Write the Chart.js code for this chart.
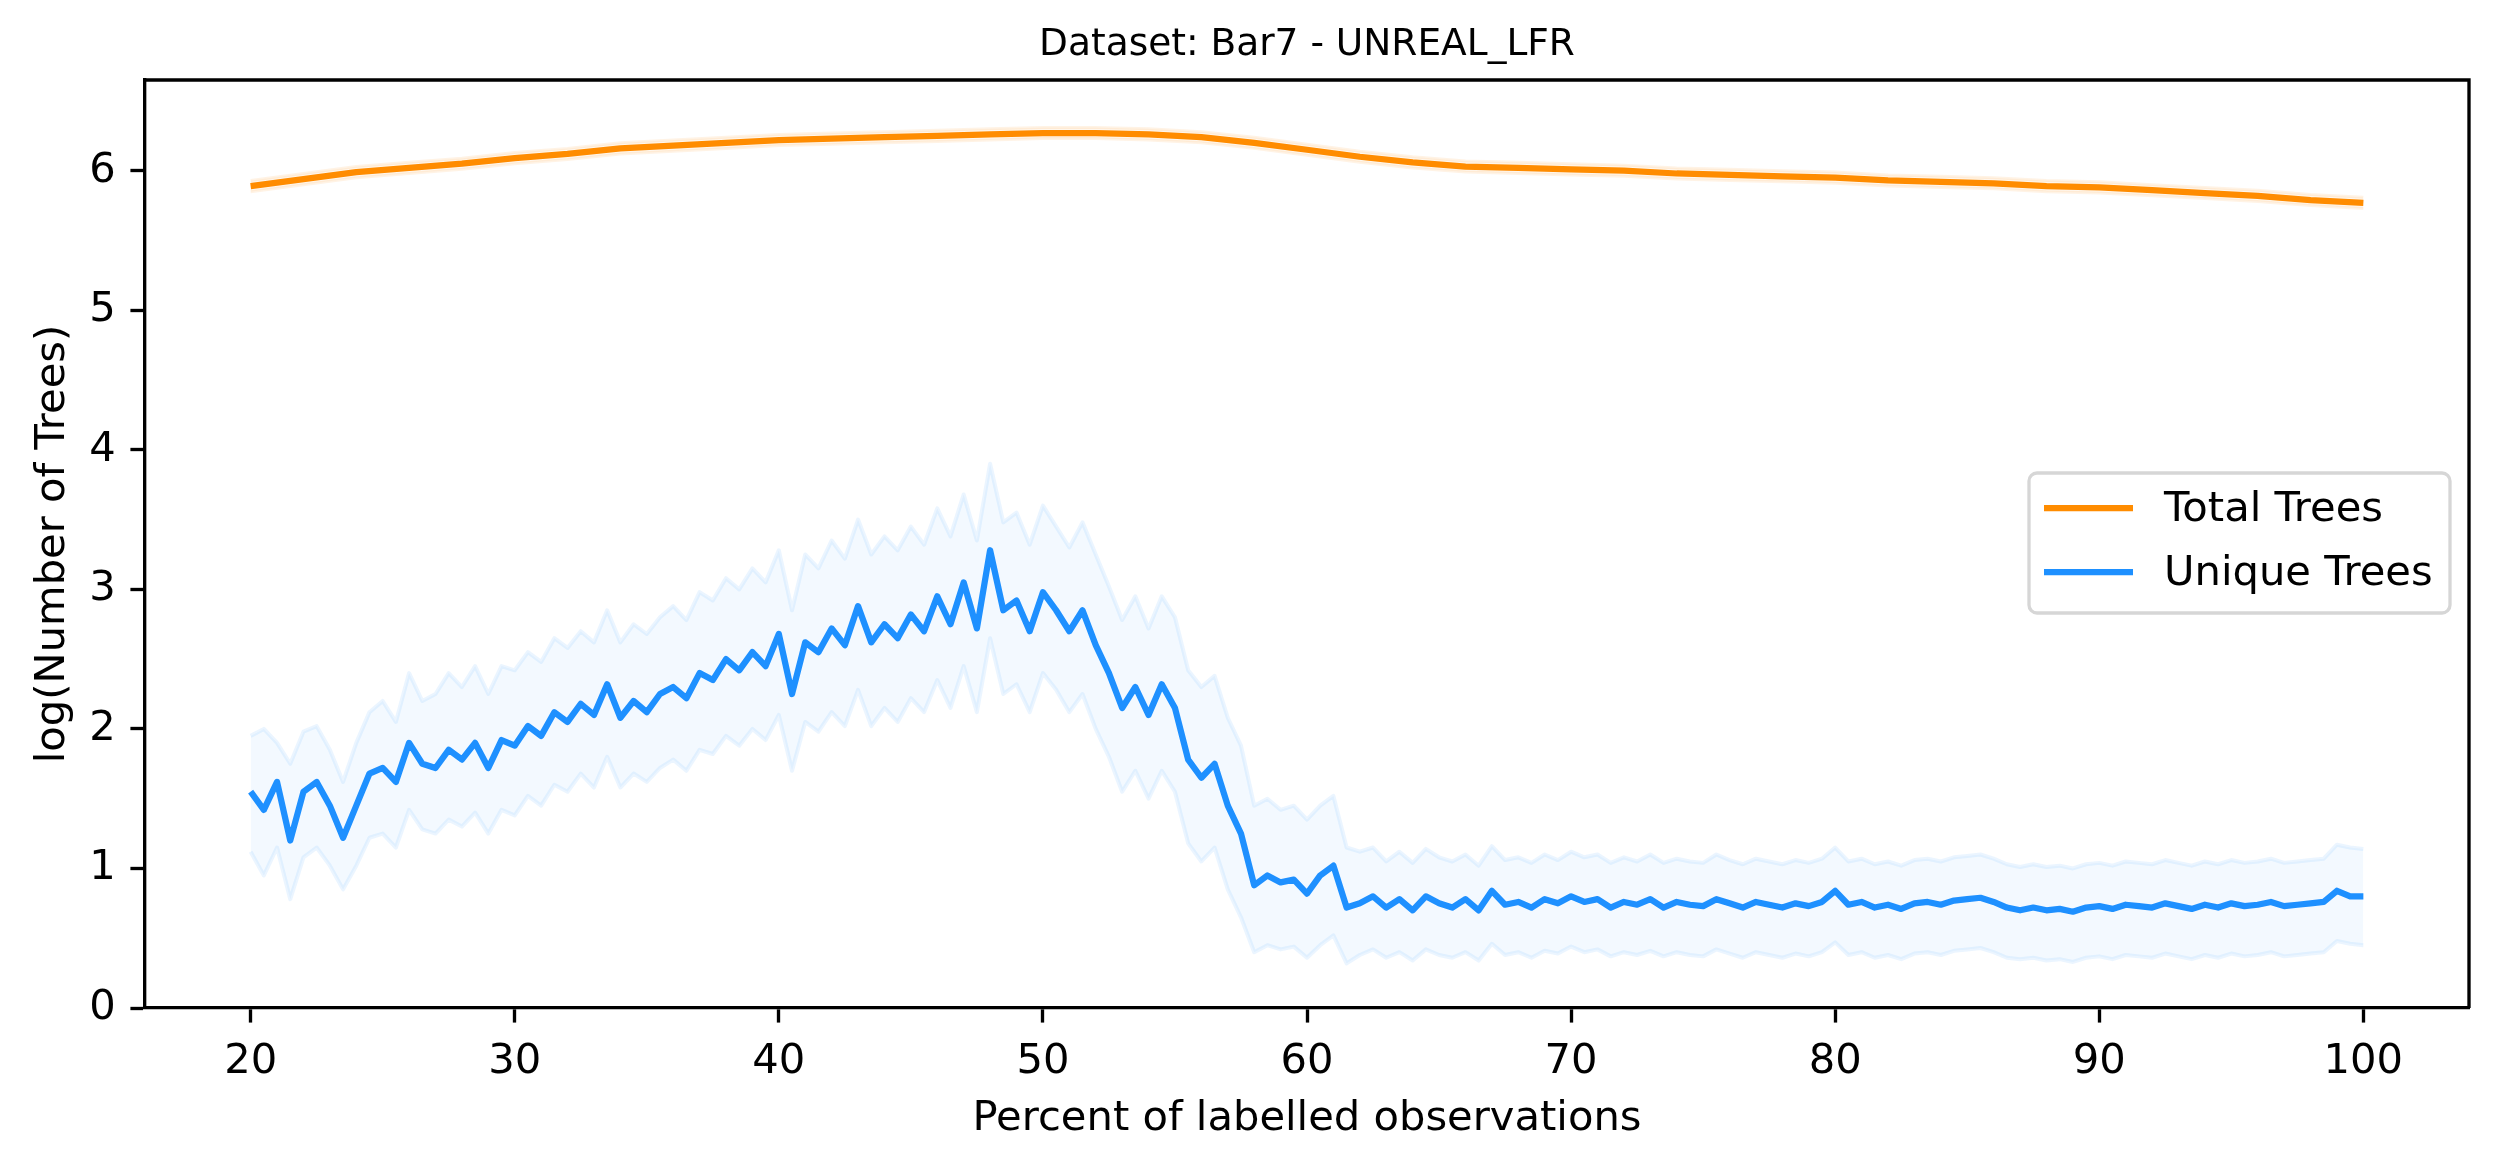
<!DOCTYPE html>
<html>
<head>
<meta charset="utf-8">
<script src="https://cdn.jsdelivr.net/npm/chart.js@4.4.1/dist/chart.umd.min.js"></script>
<style>
  html, body { margin: 0; padding: 0; background: #fff; }
  canvas { display: block; }
</style>
</head>
<body>
<canvas id="chart" width="2499" height="1165"></canvas>
<script>
// axis ticks
const xTicks = [20, 30, 40, 50, 60, 70, 80, 90, 100];
const yTicks = [0, 1, 2, 3, 4, 5, 6];

// Total Trees (read every 2 percent)
const totalX = [20, 22, 24, 26, 28, 30, 32, 34, 36, 38, 40, 42, 44, 46, 48, 50, 52, 54, 56, 58, 60,
  62, 64, 66, 68, 70, 72, 74, 76, 78, 80, 82, 84, 86, 88, 90, 92, 94, 96, 98, 100];
const totalMean = [5.89, 5.94, 5.99, 6.02, 6.05, 6.09, 6.12, 6.16, 6.18, 6.20, 6.22, 6.23, 6.24, 6.25, 6.26, 6.27, 6.27, 6.26, 6.24, 6.20, 6.15,
  6.10, 6.06, 6.03, 6.02, 6.01, 6.00, 5.98, 5.97, 5.96, 5.95, 5.93, 5.92, 5.91, 5.89, 5.88, 5.86, 5.84, 5.82, 5.79, 5.77];
const totalUpper = [5.93, 5.98, 6.03, 6.06, 6.09, 6.13, 6.16, 6.20, 6.22, 6.24, 6.26, 6.27, 6.28, 6.29, 6.30, 6.31, 6.31, 6.30, 6.28, 6.24, 6.19,
  6.14, 6.10, 6.07, 6.06, 6.05, 6.04, 6.02, 6.01, 6.00, 5.99, 5.97, 5.96, 5.95, 5.93, 5.92, 5.90, 5.88, 5.86, 5.83, 5.81];
const totalLower = [5.85, 5.90, 5.95, 5.98, 6.01, 6.05, 6.08, 6.12, 6.14, 6.16, 6.18, 6.19, 6.20, 6.21, 6.22, 6.23, 6.23, 6.22, 6.20, 6.16, 6.11,
  6.06, 6.02, 5.99, 5.98, 5.97, 5.96, 5.94, 5.93, 5.92, 5.91, 5.89, 5.88, 5.87, 5.85, 5.84, 5.82, 5.80, 5.78, 5.75, 5.73];

// Unique Trees (read every 0.5 percent)
const uniqueX = [
  20, 20.5, 21, 21.5, 22, 22.5, 23, 23.5, 24, 24.5, 25, 25.5, 26, 26.5, 27, 27.5, 28, 28.5, 29, 29.5,
  30, 30.5, 31, 31.5, 32, 32.5, 33, 33.5, 34, 34.5, 35, 35.5, 36, 36.5, 37, 37.5, 38, 38.5, 39, 39.5,
  40, 40.5, 41, 41.5, 42, 42.5, 43, 43.5, 44, 44.5, 45, 45.5, 46, 46.5, 47, 47.5, 48, 48.5, 49, 49.5,
  50, 50.5, 51, 51.5, 52, 52.5, 53, 53.5, 54, 54.5, 55, 55.5, 56, 56.5, 57, 57.5, 58, 58.5, 59, 59.5,
  60, 60.5, 61, 61.5, 62, 62.5, 63, 63.5, 64, 64.5, 65, 65.5, 66, 66.5, 67, 67.5, 68, 68.5, 69, 69.5,
  70, 70.5, 71, 71.5, 72, 72.5, 73, 73.5, 74, 74.5, 75, 75.5, 76, 76.5, 77, 77.5, 78, 78.5, 79, 79.5,
  80, 80.5, 81, 81.5, 82, 82.5, 83, 83.5, 84, 84.5, 85, 85.5, 86, 86.5, 87, 87.5, 88, 88.5, 89, 89.5,
  90, 90.5, 91, 91.5, 92, 92.5, 93, 93.5, 94, 94.5, 95, 95.5, 96, 96.5, 97, 97.5, 98, 98.5, 99, 99.5,
  100];
const uniqueMean = [
  1.55, 1.42, 1.62, 1.20, 1.55, 1.62, 1.45, 1.22, 1.45, 1.68, 1.72, 1.62, 1.90, 1.75, 1.72, 1.85, 1.78, 1.90, 1.72, 1.92,
  1.88, 2.02, 1.95, 2.12, 2.05, 2.18, 2.10, 2.32, 2.08, 2.20, 2.12, 2.25, 2.30, 2.22, 2.40, 2.35, 2.50, 2.42, 2.55, 2.45,
  2.68, 2.25, 2.62, 2.55, 2.72, 2.60, 2.88, 2.62, 2.75, 2.65, 2.82, 2.70, 2.95, 2.75, 3.05, 2.72, 3.28, 2.85, 2.92, 2.70,
  2.98, 2.85, 2.70, 2.85, 2.60, 2.40, 2.15, 2.30, 2.10, 2.32, 2.15, 1.78, 1.65, 1.75, 1.45, 1.25, 0.88, 0.95, 0.90, 0.92,
  0.82, 0.95, 1.02, 0.72, 0.75, 0.80, 0.72, 0.78, 0.70, 0.80, 0.75, 0.72, 0.78, 0.70, 0.84, 0.74, 0.76, 0.72, 0.78, 0.75,
  0.80, 0.76, 0.78, 0.72, 0.76, 0.74, 0.78, 0.72, 0.76, 0.74, 0.73, 0.78, 0.75, 0.72, 0.76, 0.74, 0.72, 0.75, 0.73, 0.76,
  0.84, 0.74, 0.76, 0.72, 0.74, 0.71, 0.75, 0.76, 0.74, 0.77, 0.78, 0.79, 0.76, 0.72, 0.70, 0.72, 0.70, 0.71, 0.69, 0.72,
  0.73, 0.71, 0.74, 0.73, 0.72, 0.75, 0.73, 0.71, 0.74, 0.72, 0.75, 0.73, 0.74, 0.76, 0.73, 0.74, 0.75, 0.76, 0.84, 0.80,
  0.80];
const uniqueUpper = [
  1.95, 2.00, 1.90, 1.75, 1.98, 2.02, 1.85, 1.62, 1.90, 2.12, 2.20, 2.05, 2.40, 2.20, 2.25, 2.40, 2.30, 2.45, 2.25, 2.45,
  2.42, 2.55, 2.48, 2.65, 2.58, 2.70, 2.62, 2.85, 2.62, 2.75, 2.68, 2.80, 2.88, 2.78, 2.98, 2.92, 3.08, 3.00, 3.15, 3.05,
  3.28, 2.85, 3.25, 3.15, 3.35, 3.22, 3.50, 3.25, 3.38, 3.28, 3.45, 3.32, 3.58, 3.38, 3.68, 3.35, 3.90, 3.48, 3.55, 3.32,
  3.60, 3.45, 3.30, 3.48, 3.25, 3.02, 2.78, 2.95, 2.72, 2.95, 2.80, 2.42, 2.30, 2.38, 2.08, 1.88, 1.45, 1.50, 1.42, 1.45,
  1.35, 1.45, 1.52, 1.15, 1.12, 1.15, 1.05, 1.12, 1.04, 1.14, 1.08, 1.05, 1.10, 1.02, 1.16, 1.06, 1.08, 1.04, 1.10, 1.06,
  1.12, 1.08, 1.10, 1.04, 1.08, 1.05, 1.10, 1.04, 1.07, 1.05, 1.04, 1.10, 1.06, 1.03, 1.07, 1.05, 1.03, 1.06, 1.04, 1.07,
  1.15, 1.05, 1.07, 1.03, 1.05, 1.02, 1.06, 1.07, 1.05, 1.08, 1.09, 1.10, 1.07, 1.03, 1.01, 1.03, 1.01, 1.02, 1.00, 1.03,
  1.04, 1.02, 1.05, 1.04, 1.03, 1.06, 1.04, 1.02, 1.05, 1.03, 1.06, 1.04, 1.05, 1.07, 1.04, 1.05, 1.06, 1.07, 1.17, 1.15,
  1.14];
const uniqueLower = [
  1.12, 0.95, 1.15, 0.78, 1.08, 1.15, 1.02, 0.85, 1.02, 1.22, 1.25, 1.15, 1.42, 1.28, 1.25, 1.35, 1.30, 1.40, 1.25, 1.42,
  1.38, 1.52, 1.45, 1.60, 1.55, 1.68, 1.58, 1.80, 1.58, 1.68, 1.62, 1.72, 1.78, 1.70, 1.85, 1.82, 1.95, 1.88, 2.00, 1.92,
  2.10, 1.70, 2.05, 1.98, 2.12, 2.02, 2.28, 2.02, 2.15, 2.05, 2.22, 2.12, 2.35, 2.15, 2.45, 2.12, 2.65, 2.25, 2.32, 2.12,
  2.40, 2.28, 2.12, 2.25, 2.00, 1.80, 1.55, 1.70, 1.50, 1.70, 1.55, 1.18, 1.05, 1.15, 0.85, 0.65, 0.40, 0.45, 0.42, 0.44,
  0.36, 0.45, 0.52, 0.32, 0.38, 0.42, 0.36, 0.40, 0.34, 0.42, 0.38, 0.36, 0.40, 0.34, 0.46, 0.38, 0.40, 0.36, 0.41, 0.39,
  0.44, 0.40, 0.42, 0.37, 0.40, 0.38, 0.41, 0.37, 0.40, 0.38, 0.37, 0.42, 0.39, 0.36, 0.40, 0.38, 0.36, 0.39, 0.37, 0.40,
  0.47, 0.38, 0.40, 0.36, 0.38, 0.35, 0.39, 0.40, 0.38, 0.41, 0.42, 0.43, 0.40, 0.36, 0.35, 0.36, 0.34, 0.35, 0.33, 0.36,
  0.37, 0.35, 0.38, 0.37, 0.36, 0.39, 0.37, 0.35, 0.38, 0.36, 0.39, 0.37, 0.38, 0.40, 0.37, 0.38, 0.39, 0.40, 0.48, 0.46,
  0.45];

const ORANGE = "#ff8c00";
const BLUE = "#1e90ff";
const FONT = "DejaVu Sans";
const PT = 300 / 72; // figure was saved at 300 dpi

const pts = (xs, ys) => xs.map((x, i) => ({ x: x, y: ys[i] }));

// frame, title, axis labels and legend drawn the matplotlib way
const decorations = {
    id: "decorations",
    afterDraw(chart) {
        const ctx = chart.ctx;
        const a = chart.chartArea;
        ctx.save();

        // top and right spines
        ctx.strokeStyle = "#000";
        ctx.lineWidth = 0.8 * PT;
        ctx.beginPath();
        ctx.moveTo(a.left, a.top);
        ctx.lineTo(a.right, a.top);
        ctx.lineTo(a.right, a.bottom);
        ctx.stroke();

        ctx.fillStyle = "#000";
        ctx.textAlign = "center";
        ctx.textBaseline = "middle";

        ctx.font = `${9 * PT}px "${FONT}"`;
        ctx.fillText("Dataset: Bar7 - UNREAL_LFR", (a.left + a.right) / 2, 45);

        ctx.font = `${10 * PT}px "${FONT}"`;
        ctx.fillText("Percent of labelled observations", (a.left + a.right) / 2, 1119);

        ctx.save();
        ctx.translate(53, (a.top + a.bottom) / 2);
        ctx.rotate(-Math.PI / 2);
        ctx.fillText("log(Number of Trees)", 0, 0);
        ctx.restore();

        // legend box (center right)
        const bx = 2029, by = 473, bw = 421, bh = 140, r = 8;
        ctx.beginPath();
        ctx.moveTo(bx + r, by);
        ctx.arcTo(bx + bw, by, bx + bw, by + bh, r);
        ctx.arcTo(bx + bw, by + bh, bx, by + bh, r);
        ctx.arcTo(bx, by + bh, bx, by, r);
        ctx.arcTo(bx, by, bx + bw, by, r);
        ctx.closePath();
        ctx.fillStyle = "rgba(255,255,255,0.8)";
        ctx.fill();
        ctx.strokeStyle = "#d6d6d6";
        ctx.lineWidth = 3.3;
        ctx.stroke();

        const entries = [["Total Trees", ORANGE, 508], ["Unique Trees", BLUE, 572]];
        ctx.textAlign = "left";
        ctx.lineWidth = 1.5 * PT;
        entries.forEach(([label, color, y]) => {
            ctx.strokeStyle = color;
            ctx.beginPath();
            ctx.moveTo(2044, y);
            ctx.lineTo(2133, y);
            ctx.stroke();
            ctx.fillStyle = "#000";
            ctx.fillText(label, 2164, y + 2);
        });

        ctx.restore();
    }
};

const tickFont = { family: FONT, size: 10 * PT };

new Chart(document.getElementById("chart").getContext("2d"), {
    type: "line",
    data: {
        datasets: [
            {
                label: "total upper",
                data: pts(totalX, totalUpper),
                borderColor: "rgba(255,140,0,0.10)",
                borderWidth: 3,
                backgroundColor: "rgba(255,140,0,0.07)",
                fill: "+1",
                order: 5
            },
            {
                label: "total lower",
                data: pts(totalX, totalLower),
                borderColor: "rgba(255,140,0,0.10)",
                borderWidth: 3,
                fill: false,
                order: 4
            },
            {
                label: "unique upper",
                data: pts(uniqueX, uniqueUpper),
                borderColor: "rgba(30,144,255,0.09)",
                borderWidth: 4,
                backgroundColor: "rgba(30,144,255,0.055)",
                fill: "+1",
                order: 3
            },
            {
                label: "unique lower",
                data: pts(uniqueX, uniqueLower),
                borderColor: "rgba(30,144,255,0.09)",
                borderWidth: 4,
                fill: false,
                order: 2
            },
            {
                label: "Total Trees",
                data: pts(totalX, totalMean),
                borderColor: ORANGE,
                borderWidth: 1.5 * PT,
                fill: false,
                order: 1
            },
            {
                label: "Unique Trees",
                data: pts(uniqueX, uniqueMean),
                borderColor: BLUE,
                borderWidth: 1.5 * PT,
                fill: false,
                order: 0
            }
        ]
    },
    options: {
        responsive: false,
        animation: false,
        devicePixelRatio: 1,
        elements: {
            point: { radius: 0, hoverRadius: 0 },
            line: { tension: 0, borderJoinStyle: "round", borderCapStyle: "butt" }
        },
        layout: { padding: { top: 80, right: 30, left: 0, bottom: 0 } },
        plugins: {
            legend: { display: false },
            tooltip: { enabled: false },
            title: { display: false }
        },
        scales: {
            x: {
                type: "linear",
                min: 16,
                max: 104,
                afterBuildTicks: s => { s.ticks = xTicks.map(v => ({ value: v })); },
                afterFit: s => { s.height = 157; },
                grid: {
                    drawOnChartArea: false,
                    drawTicks: true,
                    tickLength: 3.5 * PT,
                    tickColor: "#000",
                    tickWidth: 0.8 * PT
                },
                border: { display: true, color: "#000", width: 0.8 * PT },
                ticks: {
                    font: tickFont,
                    color: "#000",
                    padding: 3.5 * PT,
                    maxRotation: 0,
                    autoSkip: false,
                    callback: v => String(v)
                }
            },
            y: {
                type: "linear",
                min: 0,
                max: 6.65,
                afterBuildTicks: s => { s.ticks = yTicks.map(v => ({ value: v })); },
                afterFit: s => { s.width = 145; },
                grid: {
                    drawOnChartArea: false,
                    drawTicks: true,
                    tickLength: 3.5 * PT,
                    tickColor: "#000",
                    tickWidth: 0.8 * PT
                },
                border: { display: true, color: "#000", width: 0.8 * PT },
                ticks: {
                    font: tickFont,
                    color: "#000",
                    padding: 3.5 * PT,
                    autoSkip: false,
                    callback: v => String(v)
                }
            }
        }
    },
    plugins: [decorations]
});
</script>
</body>
</html>
